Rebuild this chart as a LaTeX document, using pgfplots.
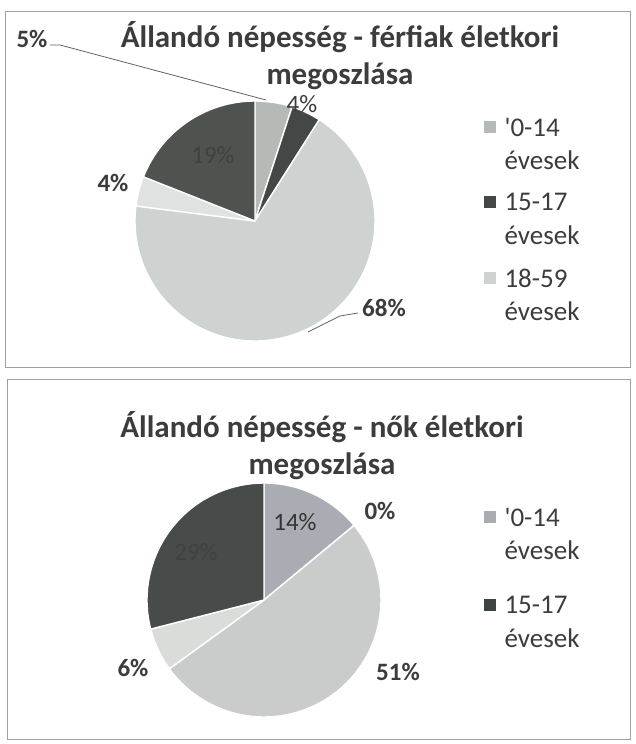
\documentclass[border=0pt]{standalone}
\usepackage{pgfplots}
\pgfplotsset{compat=1.18}
\usepackage{pgfplotstable}
\usepackage{fontspec}
\setmainfont{Carlito}[Ligatures=TeXOff]
\definecolor{txt}{HTML}{3C3C3C}
\definecolor{frm}{HTML}{A0A0A0}
\definecolor{mA}{HTML}{B6BAB7}
\definecolor{mB}{HTML}{434846}
\definecolor{mC}{HTML}{CED2D1}
\definecolor{mD}{HTML}{DFE2E0}
\definecolor{mE}{HTML}{4E5350}
\definecolor{wA}{HTML}{A9ADB3}
\definecolor{wB}{HTML}{3E4341}
\definecolor{wC}{HTML}{C9CCCA}
\definecolor{wD}{HTML}{D9DCD9}
\definecolor{wE}{HTML}{474C4A}

% férfiak (men): share in percent, clockwise from 12 o'clock
\pgfplotstableread{
pct col
5 mA
4 mB
68 mC
4 mD
19 mE
}\menTable
% nők (women)
\pgfplotstableread{
pct col
14 wA
0 wB
51 wC
6 wD
29 wE
}\womenTable

\newcommand{\drawpie}[4]{% table, cx, cy, r
  \pgfplotstablegetrowsof{#1}%
  \pgfmathtruncatemacro\nrows{\pgfplotsretval-1}%
  \def\cum{0}%
  \pgfplotsforeachungrouped \i in {0,...,\nrows}{%
    \pgfplotstablegetelem{\i}{pct}\of#1\let\pv\pgfplotsretval
    \pgfplotstablegetelem{\i}{col}\of#1\let\slicecol\pgfplotsretval
    \pgfmathsetmacro\aa{90-3.6*\cum}%
    \pgfmathsetmacro\bb{90-3.6*(\cum+\pv)}%
    \edef\temp{\noexpand\fill[\slicecol, draw=white, line width=1.4pt, line join=round]
      (axis cs:#2,#3) -- ++(\aa:#4pt) arc[start angle=\aa, end angle=\bb, radius=#4pt] -- cycle;}%
    \temp
    \pgfmathsetmacro\cum{\cum+\pv}%
  }%
}

\begin{document}
\begin{tikzpicture}
\begin{axis}[
  scale only axis, width=635pt, height=744pt,
  xmin=0, xmax=635, ymin=0, ymax=744,
  hide axis, clip=false,
]
\path[fill=white] (axis cs:0,0) rectangle (axis cs:635,744);
% frames
\draw[frm, line width=1pt] (axis cs:5,376) rectangle (axis cs:630,732);
\draw[frm, line width=1pt] (axis cs:7,4) rectangle (axis cs:630,364);

% ---------- top chart ----------
\drawpie{\menTable}{255}{523}{120}
\node[txt, font=\fontsize{31}{37}\selectfont\bfseries, align=center] at (axis cs:340,688)
  {Állandó népesség - férfiak életkori\\megoszlása};
\draw[txt!80, line width=0.8pt] (axis cs:50,699) -- (axis cs:60,699) -- (axis cs:266,644);
\draw[txt!80, line width=0.8pt] (axis cs:308,412) -- (axis cs:340,428) -- (axis cs:358,431);
\node[txt, font=\fontsize{25}{30}\selectfont\bfseries] at (axis cs:32,705) {5\%};
\node[txt, font=\fontsize{25}{30}\selectfont] at (axis cs:302,640) {4\%};
\node[black!75, font=\fontsize{25}{30}\selectfont] at (axis cs:213,589) {19\%};
\node[txt, font=\fontsize{25}{30}\selectfont\bfseries] at (axis cs:113,561) {4\%};
\node[txt, font=\fontsize{25}{30}\selectfont\bfseries] at (axis cs:384,436) {68\%};
% legend
\fill[mA] (axis cs:484,611) rectangle (axis cs:496,623);
\fill[mB] (axis cs:484,536) rectangle (axis cs:496,548);
\fill[mC] (axis cs:484,460) rectangle (axis cs:496,472);
\begin{scope}[every node/.style={txt, anchor=west, font=\fontsize{27}{32}\selectfont}]
\node at (axis cs:501,617) {'0-14};
\node at (axis cs:501,584) {évesek};
\node at (axis cs:501,542) {15-17};
\node at (axis cs:501,509) {évesek};
\node at (axis cs:501,466) {18-59};
\node at (axis cs:501,433) {évesek};
\end{scope}

% ---------- bottom chart ----------
\drawpie{\womenTable}{264}{144}{117}
\node[txt, font=\fontsize{31}{37}\selectfont\bfseries, align=center] at (axis cs:322,298)
  {Állandó népesség - nők életkori\\megoszlása};
\node[black!80, font=\fontsize{25}{30}\selectfont] at (axis cs:295,222) {14\%};
\node[txt, font=\fontsize{25}{30}\selectfont\bfseries] at (axis cs:380,233) {0\%};
\node[black!75, font=\fontsize{25}{30}\selectfont] at (axis cs:196,192) {29\%};
\node[txt, font=\fontsize{25}{30}\selectfont\bfseries] at (axis cs:133,76) {6\%};
\node[txt, font=\fontsize{25}{30}\selectfont\bfseries] at (axis cs:398,72) {51\%};
\fill[wA] (axis cs:484,221) rectangle (axis cs:496,233);
\fill[wB] (axis cs:484,133) rectangle (axis cs:496,145);
\begin{scope}[every node/.style={txt, anchor=west, font=\fontsize{27}{32}\selectfont}]
\node at (axis cs:501,227) {'0-14};
\node at (axis cs:501,194) {évesek};
\node at (axis cs:501,139) {15-17};
\node at (axis cs:501,106) {évesek};
\end{scope}
\end{axis}
\end{tikzpicture}
\end{document}
